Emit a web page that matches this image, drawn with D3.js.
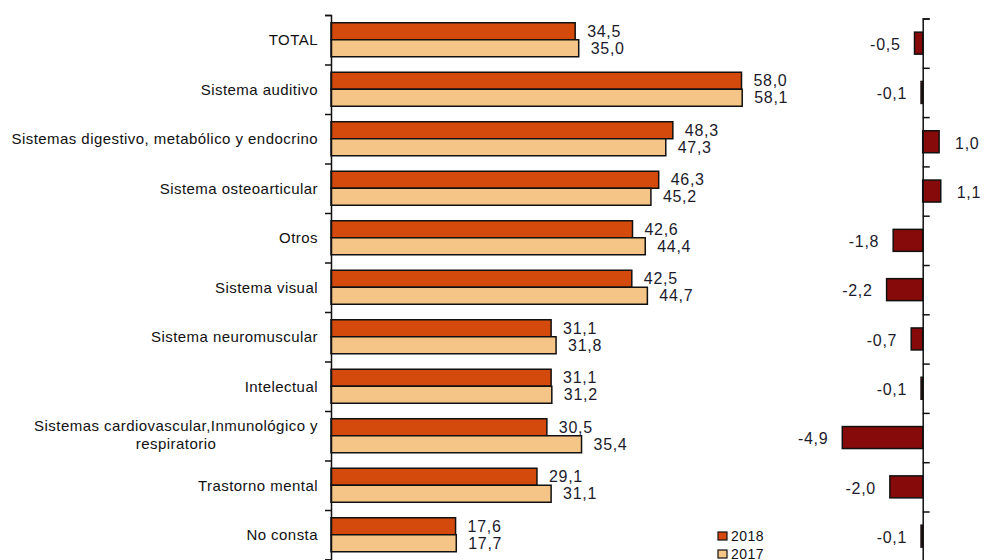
<!DOCTYPE html>
<html>
<head>
<meta charset="utf-8">
<script src="https://cdn.jsdelivr.net/npm/d3@7"></script>
<style>
  body { margin: 0; background: #fff; }
  svg { display: block; font-family: "Liberation Sans", Arial, sans-serif; }
</style>
</head>
<body>
<script>
// categories and values
var categories = ["TOTAL", "Sistema auditivo", "Sistemas digestivo, metabólico y endocrino",
    "Sistema osteoarticular", "Otros", "Sistema visual", "Sistema neuromuscular", "Intelectual",
    "Sistemas cardiovascular,Inmunológico y|respiratorio", "Trastorno mental", "No consta"];
var values2018 = [34.5, 58.0, 48.3, 46.3, 42.6, 42.5, 31.1, 31.1, 30.5, 29.1, 17.6];
var values2017 = [35.0, 58.1, 47.3, 45.2, 44.4, 44.7, 31.8, 31.2, 35.4, 31.1, 17.7];
var diffs = [-0.5, -0.1, 1.0, 1.1, -1.8, -2.2, -0.7, -0.1, -4.9, -2.0, -0.1];
var seriesNames = ["2018", "2017"];

var width = 988, height = 560;
var col2018 = "#d44a0d", col2017 = "#f5c487", colDiff = "#870a0a";
var loc = d3.formatLocale({ decimal: ",", thousands: ".", grouping: [3], currency: ["", "€"], minus: "-" });
var fmt = loc.format(".1f");

var svg = d3.select("body").append("svg")
    .attr("width", width)
    .attr("height", height);

// ---- left panel: 2018 vs 2017 ----
var step = 49.5, top1 = 15, left1 = 331;
var y = d3.scaleBand().domain(d3.range(categories.length))
    .range([top1, top1 + step * categories.length])
    .paddingInner(0.313).paddingOuter(0.1565);
var ySub = d3.scaleBand().domain(seriesNames).range([0, y.bandwidth()]);
var x = d3.scaleLinear().domain([0, 58]).range([left1, 741.5]);

var rows = categories.map(function (c, i) {
    return { i: i, name: c, v: [values2018[i], values2017[i]] };
});

var g1 = svg.append("g");
var grp = g1.selectAll("g.cat").data(rows).enter().append("g")
    .attr("class", "cat")
    .attr("transform", function (d) { return "translate(0," + y(d.i) + ")"; });

grp.selectAll("rect").data(function (d) {
    return d.v.map(function (v, k) { return { s: seriesNames[k], v: v }; });
}).enter().append("rect")
    .attr("x", x(0))
    .attr("y", function (d) { return ySub(d.s); })
    .attr("width", function (d) { return x(d.v) - x(0); })
    .attr("height", ySub.bandwidth())
    .attr("fill", function (d) { return d.s == "2018" ? col2018 : col2017; })
    .attr("stroke", "#111")
    .attr("stroke-width", 1.5);

grp.selectAll("text.val").data(function (d) {
    return d.v.map(function (v, k) { return { s: seriesNames[k], v: v }; });
}).enter().append("text")
    .attr("class", "val")
    .attr("x", function (d) { return x(d.v) + 12; })
    .attr("y", function (d) { return ySub(d.s) + ySub.bandwidth() / 2; })
    .attr("dy", "0.36em")
    .attr("font-size", 16)
    .attr("letter-spacing", 0.7)
    .attr("fill", "#1b1b2b")
    .text(function (d) { return fmt(d.v); });

// axis with ticks on the band boundaries
var yb = d3.scaleLinear().domain([0, categories.length]).range([top1, top1 + step * categories.length]);
g1.append("g")
    .attr("transform", "translate(" + left1 + ",0)")
    .call(d3.axisLeft(yb).ticks(categories.length).tickFormat("").tickSizeOuter(0).tickSize(6))
    .call(function (g) {
        g.selectAll("line").attr("stroke", "#111").attr("stroke-width", 1.5);
        g.select(".domain").attr("stroke", "#111").attr("stroke-width", 1.5);
    });

// category labels
var lab = g1.selectAll("text.cat").data(rows).enter().append("text")
    .attr("class", "cat")
    .attr("font-size", 15)
    .attr("letter-spacing", 0.45)
    .attr("fill", "#111")
    .attr("text-anchor", "end")
    .attr("transform", function (d) {
        return "translate(318," + (y(d.i) + y.bandwidth() / 2) + ")";
    });
lab.each(function (d) {
    var lines = d.name.split("|");
    var t = d3.select(this);
    if (lines.length == 1) {
        t.append("tspan").attr("x", 0).attr("dy", "0.36em").text(lines[0]);
    } else {
        // wrapped label: lines centred on each other, block right-aligned
        var first = t.append("tspan").attr("x", 0).attr("dy", "-0.3em").text(lines[0]);
        var w = first.node().getComputedTextLength();
        t.attr("text-anchor", "middle");
        first.attr("x", -w / 2);
        t.append("tspan").attr("x", -w / 2).attr("dy", "1.2em").text(lines[1]);
    }
});

// legend
var leg = g1.selectAll("g.leg").data(seriesNames).enter().append("g")
    .attr("class", "leg")
    .attr("transform", function (d, k) { return "translate(718," + (532 + k * 18) + ")"; });
leg.append("rect").attr("width", 9).attr("height", 8)
    .attr("fill", function (d) { return d == "2018" ? col2018 : col2017; })
    .attr("stroke", "#111").attr("stroke-width", 1.2);
leg.append("text").attr("x", 13).attr("y", 4).attr("dy", "0.36em")
    .attr("font-size", 14).attr("letter-spacing", 0.5).attr("fill", "#111")
    .text(function (d) { return d; });

// ---- right panel: difference ----
var top2 = 18.5, step2 = 49.3;
var y2 = d3.scaleBand().domain(d3.range(categories.length))
    .range([top2, top2 + step2 * categories.length])
    .paddingInner(0.554).paddingOuter(0.277);
var x2 = d3.scaleLinear().domain([-4.9, 0]).range([842.3, 922.7]);

var g2 = svg.append("g");
g2.selectAll("rect").data(diffs).enter().append("rect")
    .attr("x", function (d) { return x2(Math.min(0, d)); })
    .attr("y", function (d, i) { return y2(i); })
    .attr("width", function (d) { return Math.abs(x2(d) - x2(0)); })
    .attr("height", y2.bandwidth())
    .attr("fill", colDiff)
    .attr("stroke", "#111")
    .attr("stroke-width", 1.5);

g2.selectAll("text").data(diffs).enter().append("text")
    .attr("x", function (d) { return d < 0 ? x2(d) - 14 : x2(d) + 16; })
    .attr("y", function (d, i) { return y2(i) + y2.bandwidth() / 2 + 1; })
    .attr("dy", "0.36em")
    .attr("text-anchor", function (d) { return d < 0 ? "end" : "start"; })
    .attr("font-size", 16)
    .attr("letter-spacing", 0.7)
    .attr("fill", "#1b1b2b")
    .text(function (d) { return fmt(d); });

var yb2 = d3.scaleLinear().domain([0, categories.length]).range([top2, top2 + step2 * categories.length]);
g2.append("g")
    .attr("transform", "translate(" + x2(0) + ",0)")
    .call(d3.axisRight(yb2).ticks(categories.length).tickFormat("").tickSizeOuter(0).tickSize(7))
    .call(function (g) {
        g.selectAll("line").attr("stroke", "#111").attr("stroke-width", 1.5);
        g.select(".domain").attr("stroke", "#111").attr("stroke-width", 1.5);
    });
</script>
</body>
</html>
